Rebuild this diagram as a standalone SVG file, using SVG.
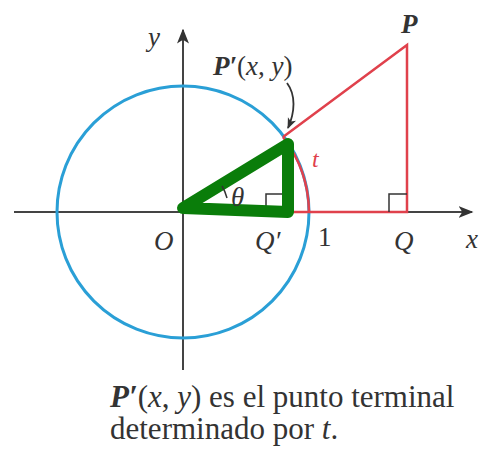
<svg xmlns="http://www.w3.org/2000/svg" width="480" height="449" viewBox="0 0 480 449">
<defs>
<marker id="ah" viewBox="0 0 10 10" refX="9" refY="5" markerWidth="11" markerHeight="11" markerUnits="userSpaceOnUse" orient="auto">
<path d="M0,1 L10,5 L0,9 L2.5,5 Z" fill="#333"/>
</marker>
<marker id="ah2" viewBox="0 0 10 10" refX="9" refY="5" markerWidth="15" markerHeight="15" markerUnits="userSpaceOnUse" orient="auto">
<path d="M0,1 L10,5 L0,9 L2.5,5 Z" fill="#333"/>
</marker>
</defs>
<style>
.ax{stroke:#444;stroke-width:2;fill:none}
.lbl{font-family:"Liberation Serif","DejaVu Serif",serif;font-size:27px;fill:#333}
.cap{font-family:"Liberation Serif","DejaVu Serif",serif;font-size:31px;fill:#333}
.it{font-style:italic}
.red{stroke:#e0414c;stroke-width:2.5;fill:none}
.sq{stroke:#333;stroke-width:1.5;fill:none}
</style>
<rect width="480" height="449" fill="#fff"/>
<g id="axes">
<line class="ax" x1="14" y1="212" x2="472" y2="212" marker-end="url(#ah2)"/>
<line class="ax" x1="183" y1="370" x2="183" y2="30" marker-end="url(#ah2)"/>
</g>
<g id="circle">
<circle cx="183" cy="212" r="126" fill="none" stroke="#2a9fd6" stroke-width="3"/>
</g>
<g id="red-triangle">
<path class="red" d="M283,137 L407,45 L407,212 L290,212"/>
<path class="red" d="M283,137 A126,126 0 0 1 309,212"/>
</g>
<g id="right-angles">
<path class="sq" d="M266,212 L266,194 L284,194"/>
<path class="sq" d="M389,212 L389,194 L407,194"/>
</g>
<g id="green-triangle">
<path d="M183,208 L288,144 L288,212 Z" fill="none" stroke="#0a7d0a" stroke-width="12" stroke-linejoin="round"/>
</g>
<g id="connectors">
<path d="M287,83 C296,95 295,112 288,128" fill="none" stroke="#333" stroke-width="1.8" marker-end="url(#ah)"/>
<path d="M227,198 A46,46 0 0 0 222,186" fill="none" stroke="#333" stroke-width="1.5"/>
</g>
<g id="labels">
<text class="lbl it" x="148" y="46">y</text>
<text class="lbl it" x="401" y="33" font-weight="bold">P</text>
<text class="lbl" x="213" y="75"><tspan class="it" font-weight="bold">P′</tspan>(<tspan class="it">x</tspan>, <tspan class="it">y</tspan>)</text>
<text class="lbl it" x="231" y="206" style="font-size:27px">θ</text>
<text class="lbl it" x="312" y="167" style="font-size:24px;fill:#e0414c">t</text>
<text class="lbl it" x="154" y="250">O</text>
<text class="lbl it" x="255" y="250">Q′</text>
<text class="lbl" x="318" y="246">1</text>
<text class="lbl it" x="394" y="250">Q</text>
<text class="lbl it" x="466" y="248">x</text>
<text class="cap" x="110" y="407"><tspan class="it" font-weight="bold">P′</tspan>(<tspan class="it">x</tspan>, <tspan class="it">y</tspan>) es el punto terminal</text>
<text class="cap" x="110" y="439">determinado por <tspan class="it">t</tspan>.</text>
</g>
</svg>
